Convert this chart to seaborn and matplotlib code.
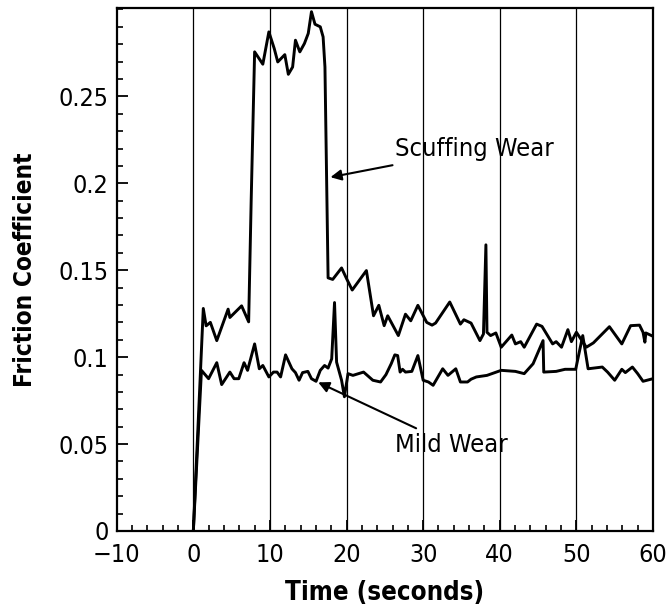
import numpy as np
import pandas as pd
import matplotlib
matplotlib.use("Agg")
import matplotlib.pyplot as plt
from matplotlib.ticker import MultipleLocator
import seaborn as sns

# ---- data ----
scuff_t = [0.0, 1.3, 1.67, 2.22, 3.06, 4.54, 4.77, 6.3, 7.22, 7.55, 8.0, 9.07, 9.86, 10.56,
           11.02, 11.94, 12.4, 12.96, 13.33, 13.9, 14.5, 15.0, 15.42, 15.88, 16.57, 16.94,
           17.18, 17.59, 18.19, 19.35, 20.05, 20.74, 22.59, 23.52, 24.21, 24.91, 25.37,
           26.76, 27.69, 28.38, 29.31, 30.46, 31.16, 31.62, 33.47, 34.86, 35.32, 36.25,
           37.41, 37.87, 38.19, 38.33, 38.8, 39.49, 40.19, 41.57, 42.04, 42.73, 43.19,
           44.81, 45.51, 46.9, 47.36, 48.06, 48.89, 49.35, 50.0, 51.3, 52.22, 54.31,
           55.93, 57.08, 58.24, 58.7, 58.94, 59.07, 60.0]
scuff_mu = [0.0, 0.128, 0.118, 0.12, 0.1095, 0.1276, 0.1228, 0.1295, 0.1203, 0.19, 0.2756,
            0.2685, 0.2871, 0.2775, 0.2698, 0.274, 0.2627, 0.2669, 0.2823, 0.2756, 0.2804,
            0.2862, 0.2987, 0.2915, 0.29, 0.2842, 0.2669, 0.1456, 0.1447, 0.1513, 0.1447,
            0.1386, 0.1498, 0.1238, 0.1298, 0.1181, 0.1238, 0.1124, 0.1247, 0.1209, 0.1298,
            0.12, 0.1184, 0.1196, 0.1317, 0.119, 0.1215, 0.1196, 0.1095, 0.1133, 0.1646,
            0.1143, 0.1124, 0.1139, 0.1057, 0.1127, 0.1076, 0.1089, 0.1057, 0.119, 0.1177,
            0.1076, 0.1089, 0.1057, 0.1158, 0.1089, 0.1143, 0.1057, 0.1082, 0.1175, 0.1076,
            0.1181, 0.1184, 0.1143, 0.1086, 0.1139, 0.112]

mild_t = [0.0, 1.06, 1.99, 3.06, 3.7, 4.77, 5.32, 5.93, 6.62, 7.08, 8.0, 8.61, 9.07, 9.86,
          10.46, 10.93, 11.39, 12.04, 12.87, 13.33, 13.8, 14.26, 14.95, 15.42, 16.02, 16.57,
          17.13, 17.59, 18.06, 18.43, 18.7, 19.35, 19.72, 20.19, 20.83, 22.22, 23.43, 24.44,
          25.14, 25.83, 26.3, 26.67, 26.99, 27.31, 27.69, 28.52, 29.31, 30.0, 30.69, 31.3,
          32.55, 33.24, 34.26, 34.86, 35.79, 36.25, 36.94, 38.33, 40.19, 42.04, 43.19,
          44.35, 45.65, 45.74, 47.36, 48.52, 49.91, 50.83, 51.53, 53.38, 54.07, 55.0,
          55.93, 56.39, 57.31, 58.0, 58.7, 60.0]
mild_mu = [0.0, 0.0924, 0.0876, 0.0968, 0.0842, 0.0914, 0.0876, 0.0876, 0.0968, 0.0924,
           0.1076, 0.0933, 0.0952, 0.0886, 0.0914, 0.0914, 0.0886, 0.1013, 0.0933, 0.0911,
           0.0867, 0.0911, 0.0918, 0.0876, 0.0861, 0.0924, 0.0952, 0.0937, 0.099, 0.1314,
           0.0971, 0.0867, 0.0772, 0.0905, 0.0895, 0.0914, 0.0867, 0.0857, 0.0899, 0.0962,
           0.1013, 0.1009, 0.0914, 0.093, 0.0914, 0.0918, 0.1009, 0.0867, 0.0857, 0.0838,
           0.0933, 0.0895, 0.0933, 0.0857, 0.0857, 0.0873, 0.0886, 0.0895, 0.0924, 0.0918,
           0.0905, 0.0962, 0.1095, 0.0914, 0.0918, 0.093, 0.093, 0.1124, 0.0933, 0.0943,
           0.0914, 0.0867, 0.093, 0.0911, 0.0943, 0.0905, 0.0861, 0.0876]

x_ticks = [-10, 0, 10, 20, 30, 40, 50, 60]
y_ticks = [0, 0.05, 0.1, 0.15, 0.2, 0.25]
y_tick_labels = ["0", "0.05", "0.1", "0.15", "0.2", "0.25"]
grid_x = [0, 10, 20, 30, 40, 50]

df = pd.concat([
    pd.DataFrame({"Time": scuff_t, "Friction": scuff_mu, "Condition": "Scuffing Wear"}),
    pd.DataFrame({"Time": mild_t, "Friction": mild_mu, "Condition": "Mild Wear"}),
], ignore_index=True)

sns.set_style("ticks")
plt.rcParams["font.family"] = ["DejaVu Sans"]
plt.rcParams["font.stretch"] = "condensed"
for k in ["text.color", "axes.labelcolor", "xtick.color", "ytick.color", "axes.edgecolor"]:
    plt.rcParams[k] = "black"

fig = plt.figure(figsize=(6.67, 6.12), dpi=100)
ax = fig.add_axes([0.175, 0.1324, 0.804, 0.855])

for x in grid_x:
    ax.axvline(x, color="black", lw=0.9, zorder=1)

sns.lineplot(data=df, x="Time", y="Friction", units="Condition", estimator=None,
             color="black", lw=2.1, sort=False, ax=ax, legend=False, zorder=3)

ax.set_xlim(-10, 60)
ax.set_ylim(0, 0.301)
ax.set_xticks(x_ticks)
ax.set_yticks(y_ticks)
ax.set_yticklabels(y_tick_labels)
ax.xaxis.set_minor_locator(MultipleLocator(2))
ax.yaxis.set_minor_locator(MultipleLocator(0.01))
ax.tick_params(axis="both", which="major", direction="in", length=8, width=1.3,
               labelsize=18, color="black")
ax.tick_params(axis="x", which="major", pad=9)
ax.tick_params(axis="y", which="major", pad=6)
ax.tick_params(axis="both", which="minor", direction="in", length=4.5, width=1.2,
               color="black")
ax.tick_params(top=False, right=False, which="both")
for s in ax.spines.values():
    s.set_visible(True)
    s.set_linewidth(1.6)
    s.set_color("black")

ax.set_xlabel("Time (seconds)", fontsize=18.5, fontweight="bold", labelpad=9)
ax.set_ylabel("Friction Coefficient", fontsize=17.5, fontweight="bold", labelpad=15)

ax.annotate("Scuffing Wear", xy=(17.9, 0.2035), xytext=(26.3, 0.2195),
            fontsize=18.3, va="center", ha="left",
            arrowprops=dict(arrowstyle="-|>", color="black", lw=1.5,
                            shrinkA=2, shrinkB=0, mutation_scale=16))
ax.annotate("Mild Wear", xy=(16.3, 0.0855), xytext=(26.3, 0.0496),
            fontsize=18.3, va="center", ha="left",
            arrowprops=dict(arrowstyle="-|>", color="black", lw=1.5,
                            shrinkA=2, shrinkB=0, mutation_scale=16))

fig.savefig("out.png", dpi=100, facecolor="white")
